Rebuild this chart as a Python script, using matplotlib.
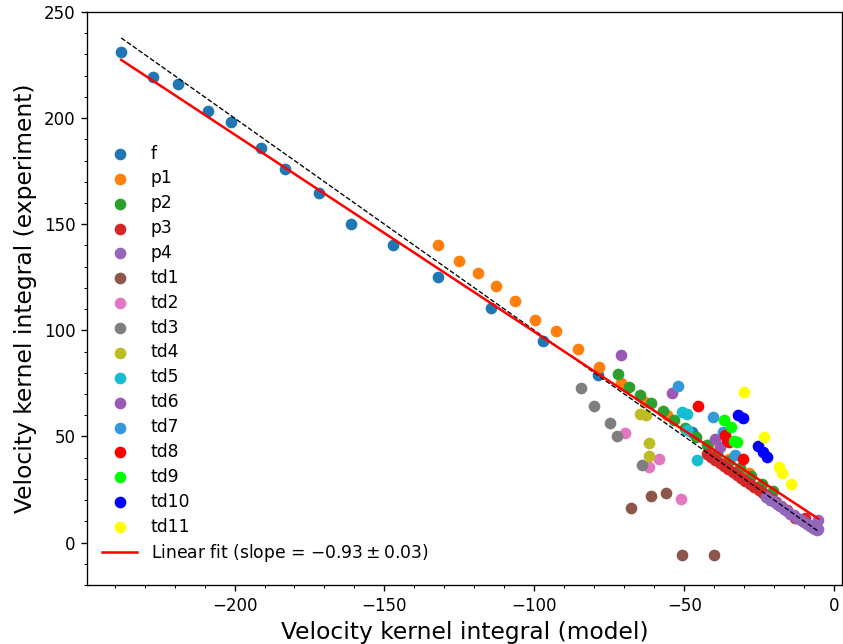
import numpy as np
import matplotlib
matplotlib.use("Agg")
import matplotlib.pyplot as plt

# velocity kernel integrals: model (x) vs experiment (y), per mode
f_x = [-237.8, -227.1, -218.8, -208.8, -201.1, -191.1, -183.1, -171.8, -161.1, -147.1, -132.1, -114.4, -97.1, -78.8, -47.5]
f_y = [231.2, 219.6, 216.2, 203.4, 198.3, 186.0, 176.1, 164.8, 150.1, 140.2, 125.1, 110.5, 95.0, 79.0, 52.2]

p1_x = [-132.1, -125.1, -118.8, -112.8, -106.4, -99.8, -92.8, -85.4, -78.4, -71.2, -63.1, -55.9, -49.0, -42.0, -35.0, -28.3]
p1_y = [140.2, 132.8, 127.1, 121.0, 113.8, 104.9, 99.7, 91.2, 82.7, 75.0, 66.3, 60.0, 53.0, 46.0, 39.5, 33.0]

p2_x = [-72.0, -68.3, -64.8, -61.2, -57.2, -53.4, -49.8, -46.1, -42.3, -39.1, -35.0, -31.4, -27.8, -24.2, -20.3]
p2_y = [79.2, 73.4, 69.5, 65.8, 61.9, 57.7, 53.8, 49.8, 45.9, 42.1, 38.5, 35.0, 31.3, 27.8, 24.3]

p3_x = [-42.5, -41.0, -39.6, -38.2, -36.8, -35.3, -33.9, -32.4, -31.0, -29.6, -28.1, -26.7, -25.2, -23.8, -22.4, -20.9, -19.5, -17.8, -15.6, -13.1, -9.8]
p3_y = [41.8, 40.4, 38.9, 37.6, 36.0, 34.8, 33.1, 31.9, 30.2, 29.0, 27.4, 26.1, 24.6, 23.3, 21.8, 20.5, 19.0, 17.4, 15.2, 11.6, 11.4]

p4_x = [-22.6, -21.4, -20.3, -19.1, -18.0, -16.9, -15.8, -14.6, -13.5, -12.3, -11.2, -10.1, -9.0, -8.0, -7.1, -6.4, -5.8, -5.3, -5.5, -6.8]
p4_y = [21.6, 20.2, 19.5, 18.0, 17.2, 15.8, 15.0, 13.6, 12.8, 11.5, 10.8, 9.5, 8.8, 7.6, 6.8, 6.2, 5.8, 6.6, 10.4, 8.4]

td1_x = [-67.8, -61.2, -56.1, -50.9, -40.0]
td1_y = [16.3, 21.8, 23.4, -6.0, -6.0]

td2_x = [-69.8, -61.7, -58.3, -51.1]
td2_y = [51.7, 35.4, 39.2, 20.3]

td3_x = [-84.5, -80.0, -74.8, -72.5, -64.2]
td3_y = [72.9, 64.4, 56.4, 50.1, 36.5]

td4_x = [-64.8, -62.8, -61.7, -61.7]
td4_y = [60.5, 60.2, 46.7, 40.7]

td5_x = [-50.9, -49.2, -49.2, -45.9]
td5_y = [61.6, 60.8, 53.0, 38.8]

td6_x = [-71.1, -54.2, -39.8, -38.1]
td6_y = [88.4, 70.6, 49.0, 45.1]

td7_x = [-52.0, -40.3, -37.0, -33.1]
td7_y = [73.7, 59.2, 52.2, 41.2]

td8_x = [-45.3, -36.4, -35.9, -35.0, -30.3]
td8_y = [64.3, 50.5, 48.5, 47.5, 39.6]

td9_x = [-36.8, -34.5, -33.3, -32.5]
td9_y = [57.7, 54.5, 47.8, 47.3]

td10_x = [-32.0, -30.5, -25.3, -23.7, -22.5]
td10_y = [60.3, 58.8, 45.4, 42.7, 40.1]

td11_x = [-30.0, -23.3, -18.3, -17.5, -14.4]
td11_y = [71.0, 49.8, 35.7, 32.8, 27.8]

fit_slope = -0.93
fit_intercept = 6.3

series = [
    ("f", f_x, f_y, "tab:blue"),
    ("p1", p1_x, p1_y, "tab:orange"),
    ("p2", p2_x, p2_y, "tab:green"),
    ("p3", p3_x, p3_y, "tab:red"),
    ("p4", p4_x, p4_y, "tab:purple"),
    ("td1", td1_x, td1_y, "tab:brown"),
    ("td2", td2_x, td2_y, "tab:pink"),
    ("td3", td3_x, td3_y, "tab:gray"),
    ("td4", td4_x, td4_y, "tab:olive"),
    ("td5", td5_x, td5_y, "tab:cyan"),
    ("td6", td6_x, td6_y, "#9b59b6"),
    ("td7", td7_x, td7_y, "#3498db"),
    ("td8", td8_x, td8_y, "red"),
    ("td9", td9_x, td9_y, "lime"),
    ("td10", td10_x, td10_y, "blue"),
    ("td11", td11_x, td11_y, "yellow"),
]

fig = plt.figure(figsize=(843 / 120, 644 / 120), dpi=120)
ax = fig.add_axes([87 / 843, 59 / 644, 755 / 843, 573 / 644])

for name, xs, ys, c in series:
    ax.scatter(xs, ys, color=c, label=name)

allx = np.concatenate([np.array(s[1]) for s in series])
xl = np.array([allx.min(), allx.max()])
ax.plot(xl, -xl, "k--", linewidth=0.8)
ax.plot(xl, fit_slope * xl + fit_intercept, color="red", linewidth=1.5,
        label=r"Linear fit (slope = $-0.93 \pm 0.03$)")

ax.set_xlim(-249.2, 2.6)
ax.set_ylim(-20, 250)
ax.minorticks_on()
ax.set_xlabel("Velocity kernel integral (model)", fontsize=14)
ax.set_ylabel("Velocity kernel integral (experiment)", fontsize=14)
ax.legend(loc="lower left", bbox_to_anchor=(0, 0.009), frameon=False,
          fontsize=10.3, labelspacing=0.40)

fig.savefig("out.png", dpi=120)
